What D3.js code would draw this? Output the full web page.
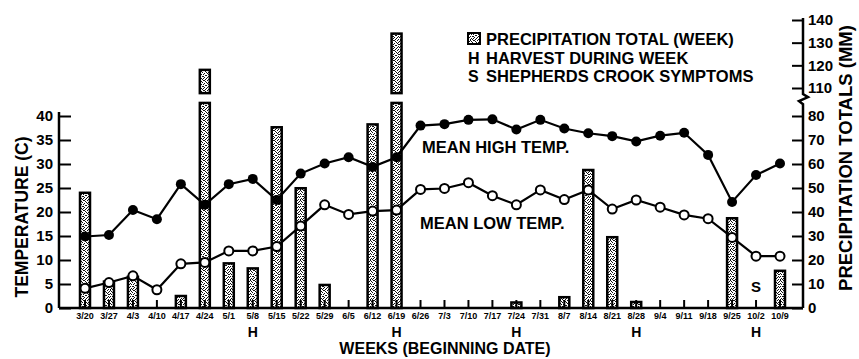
<!DOCTYPE html>
<html>
<head>
<meta charset="utf-8">
<script src="https://cdn.jsdelivr.net/npm/d3@7"></script>
<style>
  body { margin: 0; background: #fff; }
  text { font-family: "Liberation Sans", Arial, sans-serif; font-weight: bold; fill: #000; }
</style>
</head>
<body>
<div id="container"></div>
<script>
// data
const weeks = ['3/20', '3/27', '4/3', '4/10', '4/17', '4/24', '5/1', '5/8', '5/15', '5/22',
    '5/29', '6/5', '6/12', '6/19', '6/26', '7/3', '7/10', '7/17', '7/24', '7/31',
    '8/7', '8/14', '8/21', '8/28', '9/4', '9/11', '9/18', '9/25', '10/2', '10/9']
const highTemp = [14.9, 15.2, 20.4, 18.5, 25.8, 21.5, 25.8, 26.9, 22.5, 28.0,
    30.1, 31.4, 29.4, 31.4, 38.0, 38.3, 39.2, 39.3, 37.2, 39.2,
    37.4, 36.4, 35.8, 34.7, 35.9, 36.5, 31.9, 22.1, 27.7, 30.1]
const lowTemp = [4.1, 5.3, 6.7, 3.8, 9.2, 9.5, 11.9, 11.9, 12.8, 17.1,
    21.5, 19.5, 20.2, 20.4, 24.7, 24.9, 26.1, 23.4, 21.5, 24.6,
    22.6, 24.6, 20.6, 22.5, 21.0, 19.4, 18.6, 14.7, 10.8, 10.8]
const precip = [48, 11, 13, 0, 5, 118, 18.6, 16.5, 75.3, 49.9,
    9.6, 0, 76.5, 134, 0, 0, 0, 0, 2.3, 0,
    4.5, 57.5, 29.5, 2.5, 0, 0, 0, 37.4, 0, 15.5]
const harvestWeeks = ['5/8', '6/19', '7/24', '8/28', '10/2']
const symptomWeeks = ['10/2']
const tempTicks = [0, 5, 10, 15, 20, 25, 30, 35, 40]
const precipTicks = [0, 10, 20, 30, 40, 50, 60, 70, 80, 110, 120, 130, 140]

const config = {
    width: 859,
    height: 359,
    left: 59,
    right: 803,
    base: 308,
}
// precipitation axis is broken between these two values
const breakLo = 94
const breakHi = 104.5

const svg = d3.select('#container')
    .append('svg')
    .attr('width', config.width)
    .attr('height', config.height)

// speckled fill for the bars
const pat = svg.append('defs')
    .append('pattern')
    .attr('id', 'stipple')
    .attr('patternUnits', 'userSpaceOnUse')
    .attr('width', 10)
    .attr('height', 10)
pat.append('rect').attr('width', 10).attr('height', 10).attr('fill', '#fff')
const dots = [[0, 0], [3, 0], [7, 0], [1, 1], [5, 1], [9, 1], [2, 2], [6, 2], [8, 2],
    [0, 3], [4, 3], [7, 3], [1, 4], [3, 4], [9, 4], [5, 5], [6, 5], [0, 6], [2, 6],
    [8, 6], [4, 7], [7, 7], [9, 7], [1, 8], [3, 8], [6, 8], [0, 9], [5, 9], [8, 9], [2, 9],
    [4, 0], [8, 4], [3, 6]]
pat.selectAll('rect.d')
    .data(dots)
    .join('rect')
    .attr('class', 'd')
    .attr('x', d => d[0])
    .attr('y', d => d[1])
    .attr('width', 1)
    .attr('height', 1)
    .attr('fill', '#111')

const x = d3.scalePoint()
    .domain(weeks)
    .range([85, 780])

const yTemp = d3.scaleLinear()
    .domain([0, 40])
    .range([config.base, 116])

const yPrecip = d3.scaleLinear()
    .domain([0, 80, 110, 140])
    .range([config.base, 116, 88, 20])

// bars (split in two where they cross the axis break)
const segments = []
weeks.forEach((w, i) => {
    const v = precip[i]
    if (v <= 0) return
    if (v > breakHi) {
        segments.push({week: w, from: 0, to: breakLo})
        segments.push({week: w, from: breakHi, to: v})
    } else {
        segments.push({week: w, from: 0, to: v})
    }
})

svg.append('g')
    .selectAll('rect')
    .data(segments)
    .join('rect')
    .attr('x', d => x(d.week) - 5)
    .attr('y', d => yPrecip(d.to))
    .attr('width', 10)
    .attr('height', d => yPrecip(d.from) - yPrecip(d.to))
    .attr('fill', 'url(#stipple)')
    .attr('stroke', '#000')
    .attr('stroke-width', 2.5)

// x axis
svg.append('line')
    .attr('x1', config.left)
    .attr('x2', config.right)
    .attr('y1', config.base)
    .attr('y2', config.base)
    .attr('stroke', '#000')
    .attr('stroke-width', 2.5)

svg.append('g')
    .selectAll('line')
    .data(weeks)
    .join('line')
    .attr('x1', d => x(d))
    .attr('x2', d => x(d))
    .attr('y1', config.base)
    .attr('y2', config.base - 8)
    .attr('stroke', '#000')
    .attr('stroke-width', 2)

svg.append('g')
    .selectAll('text')
    .data(weeks)
    .join('text')
    .attr('x', d => x(d))
    .attr('y', 319)
    .attr('text-anchor', 'middle')
    .style('font-size', '9px')
    .text(d => d)

svg.append('g')
    .selectAll('text')
    .data(harvestWeeks)
    .join('text')
    .attr('x', d => x(d))
    .attr('y', 337)
    .attr('text-anchor', 'middle')
    .style('font-size', '14px')
    .text('H')

svg.append('g')
    .selectAll('text')
    .data(symptomWeeks)
    .join('text')
    .attr('x', d => x(d))
    .attr('y', 292)
    .attr('text-anchor', 'middle')
    .style('font-size', '15px')
    .text('S')

svg.append('text')
    .attr('x', 445)
    .attr('y', 354)
    .attr('text-anchor', 'middle')
    .style('font-size', '16px')
    .text('WEEKS (BEGINNING DATE)')

// left axis
const leftAxis = svg.append('g')
    .attr('transform', `translate(${config.left},0)`)
    .call(d3.axisLeft(yTemp)
        .tickValues(tempTicks)
        .tickSizeInner(-12)
        .tickSizeOuter(0)
        .tickPadding(6))
leftAxis.select('.domain').remove()
leftAxis.selectAll('.tick line').attr('stroke-width', 2)
leftAxis.selectAll('.tick text')
    .style('font-size', '15px')
    .style('font-family', '"Liberation Sans", Arial, sans-serif')
    .style('font-weight', 'bold')
    .attr('fill', '#000')
svg.append('line')
    .attr('x1', config.left)
    .attr('x2', config.left)
    .attr('y1', 112)
    .attr('y2', config.base)
    .attr('stroke', '#000')
    .attr('stroke-width', 2.5)

svg.append('text')
    .attr('transform', `translate(28,${(config.base + 126) / 2}) rotate(-90)`)
    .attr('text-anchor', 'middle')
    .style('font-size', '17.5px')
    .text('TEMPERATURE (C)')

// right axis with a break
const rightAxis = svg.append('g')
    .attr('transform', `translate(${config.right},0)`)
    .call(d3.axisRight(yPrecip)
        .tickValues(precipTicks)
        .tickSizeInner(-11)
        .tickSizeOuter(0)
        .tickPadding(5))
rightAxis.select('.domain').remove()
rightAxis.selectAll('.tick line').attr('stroke-width', 2)
rightAxis.selectAll('.tick text')
    .style('font-size', '15px')
    .style('font-family', '"Liberation Sans", Arial, sans-serif')
    .style('font-weight', 'bold')
    .attr('fill', '#000')

const bY = yPrecip(97)
svg.append('path')
    .attr('d', `M${config.right},${yPrecip(140) - 2}V${bY - 6}L${config.right + 5},${bY - 3}L${config.right - 4},${bY + 1}L${config.right},${bY + 4}V${config.base}`)
    .attr('fill', 'none')
    .attr('stroke', '#000')
    .attr('stroke-width', 2.5)

svg.append('text')
    .attr('transform', `translate(852,158) rotate(-90)`)
    .attr('text-anchor', 'middle')
    .style('font-size', '18.5px')
    .text('PRECIPITATION TOTALS (MM)')

// temperature lines
const line = d3.line()
    .x((d, i) => x(weeks[i]))
    .y(d => yTemp(d))

svg.append('path')
    .datum(highTemp)
    .attr('d', line)
    .attr('fill', 'none')
    .attr('stroke', '#000')
    .attr('stroke-width', 2.2)

svg.append('path')
    .datum(lowTemp)
    .attr('d', line)
    .attr('fill', 'none')
    .attr('stroke', '#000')
    .attr('stroke-width', 2.2)

svg.append('g')
    .selectAll('circle')
    .data(highTemp)
    .join('circle')
    .attr('cx', (d, i) => x(weeks[i]))
    .attr('cy', d => yTemp(d))
    .attr('r', 5)
    .attr('fill', '#000')

svg.append('g')
    .selectAll('circle')
    .data(lowTemp)
    .join('circle')
    .attr('cx', (d, i) => x(weeks[i]))
    .attr('cy', d => yTemp(d))
    .attr('r', 4.5)
    .attr('fill', '#fff')
    .attr('stroke', '#000')
    .attr('stroke-width', 2)

svg.append('text')
    .attr('x', 422)
    .attr('y', 153)
    .style('font-size', '16.5px')
    .text('MEAN HIGH TEMP.')

svg.append('text')
    .attr('x', 420)
    .attr('y', 229)
    .style('font-size', '16.5px')
    .text('MEAN LOW TEMP.')

// legend
svg.append('rect')
    .attr('x', 468)
    .attr('y', 33)
    .attr('width', 12)
    .attr('height', 11)
    .attr('fill', 'url(#stipple)')
    .attr('stroke', '#000')
    .attr('stroke-width', 2)

const legendRows = [
    {key: '', label: 'PRECIPITATION TOTAL (WEEK)'},
    {key: 'H', label: 'HARVEST DURING WEEK'},
    {key: 'S', label: 'SHEPHERDS CROOK SYMPTOMS'},
]
svg.append('g')
    .selectAll('text')
    .data(legendRows)
    .join('text')
    .attr('x', 468)
    .attr('y', (_, i) => 45 + i * 18.5)
    .style('font-size', '16px')
    .text(d => d.key)

svg.append('g')
    .selectAll('text')
    .data(legendRows)
    .join('text')
    .attr('x', 486)
    .attr('y', (_, i) => 45 + i * 18.5)
    .style('font-size', '16.5px')
    .text(d => d.label)
</script>
</body>
</html>
